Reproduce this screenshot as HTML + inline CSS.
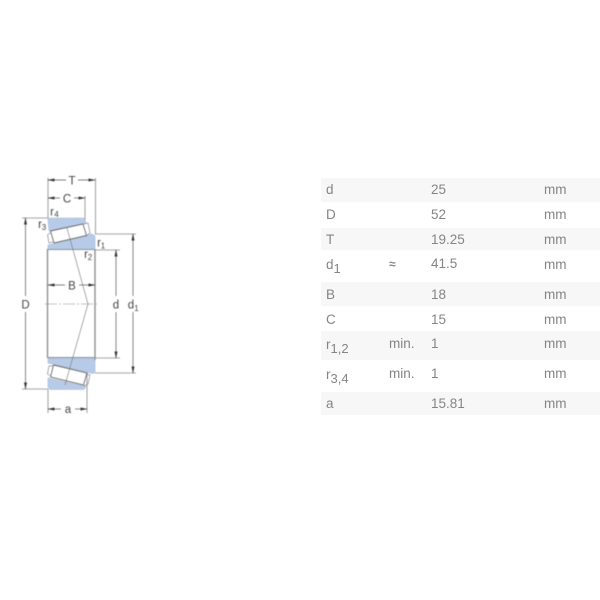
<!DOCTYPE html>
<html>
<head>
<meta charset="utf-8">
<style>
html,body{margin:0;padding:0;background:#fff}
body{width:600px;height:600px;position:relative;overflow:hidden;font-family:"Liberation Sans",sans-serif}
.band{position:absolute;left:321px;width:279px;background:#f6f7f6}
.t{position:absolute;font-size:13.5px;line-height:16px;color:#858585;white-space:nowrap;filter:blur(.25px)}
.t sub{font-size:13px;line-height:0;vertical-align:-4px}
svg{position:absolute;left:0;top:0;filter:blur(.4px)}
svg text{font-family:"Liberation Sans",sans-serif;font-size:11.5px;fill:#444;text-anchor:middle}
svg text.s{font-size:8px}
</style>
</head>
<body>
<div class="band" style="top:178px;height:24px"></div>
<div class="band" style="top:228px;height:22px"></div>
<div class="band" style="top:282px;height:24px"></div>
<div class="band" style="top:331px;height:29px"></div>
<div class="band" style="top:392px;height:23px"></div>

<div class="t" style="left:326px;top:182px">d</div><div class="t" style="left:431px;top:182px">25</div><div class="t" style="left:544px;top:182px">mm</div>
<div class="t" style="left:326px;top:207px">D</div><div class="t" style="left:431px;top:207px">52</div><div class="t" style="left:544px;top:207px">mm</div>
<div class="t" style="left:326px;top:232px">T</div><div class="t" style="left:431px;top:232px">19.25</div><div class="t" style="left:544px;top:232px">mm</div>
<div class="t" style="left:326px;top:257px">d<sub>1</sub></div><div class="t" style="left:389px;top:256px;font-size:12px;font-weight:bold">≈</div><div class="t" style="left:431px;top:256px">41.5</div><div class="t" style="left:544px;top:257px">mm</div>
<div class="t" style="left:326px;top:287px">B</div><div class="t" style="left:431px;top:287px">18</div><div class="t" style="left:544px;top:287px">mm</div>
<div class="t" style="left:326px;top:312px">C</div><div class="t" style="left:431px;top:312px">15</div><div class="t" style="left:544px;top:312px">mm</div>
<div class="t" style="left:326px;top:337px">r<sub>1,2</sub></div><div class="t" style="left:389px;top:336px">min.</div><div class="t" style="left:431px;top:336px">1</div><div class="t" style="left:544px;top:336px">mm</div>
<div class="t" style="left:326px;top:367px">r<sub>3,4</sub></div><div class="t" style="left:389px;top:366px">min.</div><div class="t" style="left:431px;top:366px">1</div><div class="t" style="left:544px;top:366px">mm</div>
<div class="t" style="left:326px;top:396px">a</div><div class="t" style="left:431px;top:396px">15.81</div><div class="t" style="left:544px;top:396px">mm</div>

<svg width="600" height="600" viewBox="0 0 600 600">
  <defs>
    <marker id="a" markerWidth="7" markerHeight="4" refX="6.5" refY="2" orient="auto-start-reverse" markerUnits="userSpaceOnUse"><path d="M0 .5L7 2L0 3.500z" fill="#333"/></marker>
  </defs>

  <!-- extension lines -->
  <g stroke="#888" stroke-width=".8" fill="none">
    <path d="M48 178V218M95.500 178V234M85 196V220"/>
    <path d="M22 218H48M22 389H48M95 234H136M95 373H136M95 250H120M95 358H120"/>
    <path d="M48 389V413M87 372V413"/>
  </g>

  <!-- top section -->
  <path d="M48 219Q48 218 50 218H84L86 223L49 231Z" fill="#b7cbe8" stroke="#a5b8d2" stroke-width=".6"/>
  <path d="M48 245L92 234L95 236V248L94 249.500H48Z" fill="#b7cbe8" stroke="#a5b8d2" stroke-width=".6"/>
  <path d="M50.500 231L83 224L86.500 235.500L54 243Z" fill="#fff" stroke="#444" stroke-width=".7"/>
  <path d="M84 224L88 223L90 233L87 235M51 232L47.500 235L49 243L53 242" fill="none" stroke="#889" stroke-width=".7"/>

  <!-- bottom section -->
  <path d="M48 378L86 386.500L84 389.500H50L48 387Z" fill="#b7cbe8" stroke="#a5b8d2" stroke-width=".6"/>
  <path d="M48 358H93L95 360V372.500L93 373.500L48 363Z" fill="#b7cbe8" stroke="#a5b8d2" stroke-width=".6"/>
  <path d="M53.500 365L87 373L83.500 385L50.500 377Z" fill="#fff" stroke="#444" stroke-width=".7"/>
  <path d="M86 374L90 375L88 384L84 386M51 376L47.500 374L49 366L53 366" fill="none" stroke="#889" stroke-width=".7"/>

  <!-- bore / body lines -->
  <path d="M47.500 249V358M95 249V360" stroke="#888" stroke-width="1.300" fill="none"/>
  <path d="M48 249.500H95M48 357.500H95" stroke="#8a93a3" stroke-width="1" fill="none"/>

  <!-- contact lines + centre -->
  <path d="M67 228L88 304L65 385" stroke="#777" stroke-width=".6" fill="none"/>
  <path d="M45 304H98" stroke="#888" stroke-width=".6" stroke-dasharray="12 2 2 2" fill="none"/>

  <!-- dimensions -->
  <g stroke="#555" stroke-width=".7" fill="none" marker-start="url(#a)">
    <path d="M48 180H66"/>
    <path d="M95 180H78"/>
    <path d="M48 198H60"/>
    <path d="M85 198H74"/>
    <path d="M48 285H65"/>
    <path d="M95 285H79"/>
    <path d="M48 409H61"/>
    <path d="M87 409H75"/>
    <path d="M25.500 218V296"/>
    <path d="M25.500 389V312"/>
    <path d="M116 250V296"/>
    <path d="M116 358V312"/>
    <path d="M133 234V296"/>
    <path d="M133 373V312"/>
  </g>

  <!-- labels -->
  <text x="72" y="184.500">T</text>
  <text x="67" y="202.500">C</text>
  <text x="72" y="289.500">B</text>
  <text x="68" y="413">a</text>
  <text x="25.500" y="308.500">D</text>
  <text x="116" y="308.500">d</text>
  <text x="131" y="308.500">d</text><text class="s" x="136.500" y="311">1</text>
  <text x="52" y="215.500">r</text><text class="s" x="56.500" y="217">4</text>
  <text x="40" y="228">r</text><text class="s" x="44" y="230">3</text>
  <text x="99" y="246.500">r</text><text class="s" x="103" y="248.500">1</text>
  <text x="86" y="258">r</text><text class="s" x="90" y="260">2</text>
</svg>
</body>
</html>
